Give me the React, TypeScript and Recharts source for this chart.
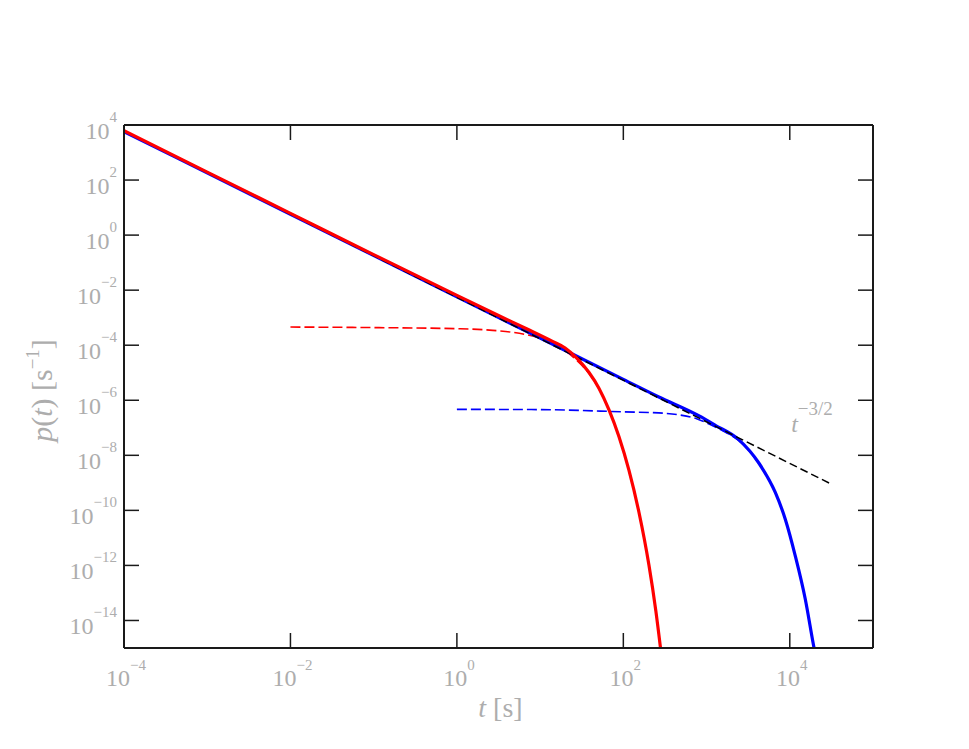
import React from 'react';
import { LineChart, Line, XAxis, YAxis, ReferenceDot, Label } from 'recharts';

// tick values and their exponent labels
const xTicks = [1e-4, 1e-2, 1, 1e2, 1e4];
const xTickExponents = ['\u22124', '\u22122', '0', '2', '4'];
const yTicks = [1e4, 1e2, 1, 1e-2, 1e-4, 1e-6, 1e-8, 1e-10, 1e-12, 1e-14];
const yTickExponents = ['4', '2', '0', '\u22122', '\u22124', '\u22126', '\u22128', '\u221210', '\u221212', '\u221214'];

// red solid curve p(t)
const redSolid = [
  { t: 1e-4, p: 6.2e3 },
  { t: 1e-3, p: 1.95e2 },
  { t: 1e-2, p: 6.17 },
  { t: 0.1, p: 0.195 },
  { t: 1, p: 6.46e-3 },
  { t: 3.16, p: 1.2e-3 },
  { t: 7.08, p: 3.8e-4 },
  { t: 14.1, p: 1.38e-4 },
  { t: 20, p: 7.94e-5 },
  { t: 27.2, p: 3.55e-5 },
  { t: 38.7, p: 1.02e-5 },
  { t: 50.9, p: 2.75e-6 },
  { t: 67.1, p: 4.57e-7 },
  { t: 88.5, p: 4.79e-8 },
  { t: 116.7, p: 2.88e-9 },
  { t: 153.8, p: 8.71e-11 },
  { t: 202.8, p: 1.05e-12 },
  { t: 246, p: 2.19e-14 },
  { t: 288, p: 4.79e-16 },
];

// red dashed curve
const redDashed = [
  { t: 1e-2, p: 4.57e-4 },
  { t: 0.1, p: 4.37e-4 },
  { t: 1, p: 3.98e-4 },
  { t: 2.69, p: 3.47e-4 },
  { t: 6.92, p: 2.4e-4 },
  { t: 10, p: 1.78e-4 },
  { t: 14.1, p: 1.12e-4 },
  { t: 20, p: 6.31e-5 },
  { t: 27.2, p: 2.95e-5 },
  { t: 38.7, p: 9.33e-6 },
  { t: 50.9, p: 2.63e-6 },
  { t: 67.1, p: 4.47e-7 },
  { t: 88.5, p: 4.68e-8 },
  { t: 116.7, p: 2.82e-9 },
  { t: 153.8, p: 8.51e-11 },
  { t: 202.8, p: 1.02e-12 },
  { t: 246, p: 2.14e-14 },
  { t: 288, p: 4.68e-16 },
];

// blue solid curve
const blueSolid = [
  { t: 1e-4, p: 5.75e3 },
  { t: 1e-2, p: 5.75 },
  { t: 1, p: 5.75e-3 },
  { t: 10, p: 1.82e-4 },
  { t: 100, p: 5.75e-6 },
  { t: 267, p: 1.32e-6 },
  { t: 805, p: 2.75e-7 },
  { t: 1259, p: 1.26e-7 },
  { t: 2432, p: 3.72e-8 },
  { t: 4227, p: 5.37e-9 },
  { t: 6699, p: 4.47e-10 },
  { t: 8831, p: 4.79e-11 },
  { t: 11641, p: 2.24e-12 },
  { t: 15346, p: 6.03e-14 },
  { t: 19320, p: 1.23e-15 },
  { t: 21380, p: 2.51e-16 },
];

// blue dashed curve
const blueDashed = [
  { t: 1, p: 4.68e-7 },
  { t: 10, p: 4.57e-7 },
  { t: 100, p: 3.8e-7 },
  { t: 267, p: 3.47e-7 },
  { t: 468, p: 2.95e-7 },
  { t: 759, p: 2.14e-7 },
  { t: 1000, p: 1.51e-7 },
  { t: 1585, p: 7.59e-8 },
  { t: 2432, p: 3.47e-8 },
  { t: 4227, p: 5.13e-9 },
  { t: 6699, p: 4.37e-10 },
  { t: 8831, p: 4.68e-11 },
  { t: 11641, p: 2.19e-12 },
  { t: 15346, p: 5.89e-14 },
  { t: 19320, p: 1.2e-15 },
  { t: 21380, p: 2.51e-16 },
];

// black dashed power law t^(-3/2)
const powerLaw = [
  { t: 1e-4, p: 6.0e3 },
  { t: 3.2e4, p: 8.8e-10 },
];

const annotation = { t: 1.04e4, p: 6.8e-8 };

const labelColor = '#adadad';
const fontFamily = '"Liberation Serif", "DejaVu Serif", serif';
const axisColor = '#1a1a1a';

const BottomTick = (props: any) => {
  const { x, y, payload } = props;
  const i = xTicks.indexOf(payload.value);
  return (
    <g>
      <line x1={x} y1={y} x2={x} y2={y - 15} stroke={axisColor} strokeWidth={1.5} />
      <text x={x + 2} y={y + 38} textAnchor="middle" fill={labelColor} fontFamily={fontFamily} fontSize={24}>
        <tspan>10</tspan>
        <tspan dy={-16} fontSize={15}>{xTickExponents[i]}</tspan>
      </text>
    </g>
  );
};

const TopTick = (props: any) => {
  const { x, y } = props;
  return <line x1={x} y1={y} x2={x} y2={y + 15} stroke={axisColor} strokeWidth={1.5} />;
};

const LeftTick = (props: any) => {
  const { x, y, payload } = props;
  const i = yTicks.indexOf(payload.value);
  return (
    <g>
      <line x1={x} y1={y} x2={x + 15} y2={y} stroke={axisColor} strokeWidth={1.5} />
      <text x={x - 7} y={y + 14} textAnchor="end" fill={labelColor} fontFamily={fontFamily} fontSize={24}>
        <tspan>10</tspan>
        <tspan dy={-17} fontSize={15}>{yTickExponents[i]}</tspan>
      </text>
    </g>
  );
};

const RightTick = (props: any) => {
  const { x, y } = props;
  return <line x1={x} y1={y} x2={x - 15} y2={y} stroke={axisColor} strokeWidth={1.5} />;
};

const XTitle = (props: any) => {
  const vb = props.viewBox;
  return (
    <text x={vb.x + vb.width / 2 + 2} y={vb.y + 69} textAnchor="middle" fill={labelColor} fontFamily={fontFamily} fontSize={28}>
      <tspan fontStyle="italic">t</tspan>
      <tspan> [s]</tspan>
    </text>
  );
};

const YTitle = (props: any) => {
  const vb = props.viewBox;
  const cx = vb.x - 12;
  const cy = vb.y + vb.height / 2 + 4;
  return (
    <text x={cx} y={cy} transform={`rotate(-90, ${cx}, ${cy})`} textAnchor="middle" fill={labelColor} fontFamily={fontFamily} fontSize={30}>
      <tspan fontStyle="italic">p</tspan>
      <tspan>(</tspan>
      <tspan fontStyle="italic">t</tspan>
      <tspan>) [s</tspan>
      <tspan dy={-13} fontSize={19}>{'\u22121'}</tspan>
      <tspan dy={13}>]</tspan>
    </text>
  );
};

const AnnotationLabel = (props: any) => {
  const vb = props.viewBox;
  const x = vb.x + (vb.width || 0) / 2;
  const y = vb.y + (vb.height || 0) / 2;
  return (
    <text x={x} y={y} fill={labelColor} fontFamily={fontFamily} fontSize={24}>
      <tspan fontStyle="italic">t</tspan>
      <tspan dy={-17} fontSize={19}>{'\u22123/2'}</tspan>
    </text>
  );
};

export default function App() {
  return (
    <LineChart width={953} height={733} margin={{ top: 97, right: 68, bottom: 33, left: 56 }}>
      <XAxis
        xAxisId={0}
        dataKey="t"
        type="number"
        scale="log"
        domain={[1e-4, 1e5]}
        allowDataOverflow
        ticks={xTicks}
        interval={0}
        height={60}
        tickSize={0}
        tickMargin={0}
        tickLine={false}
        axisLine={{ stroke: axisColor, strokeWidth: 2 }}
        tick={<BottomTick />}
      >
        <Label content={<XTitle />} />
      </XAxis>
      <XAxis
        xAxisId="top"
        orientation="top"
        dataKey="t"
        type="number"
        scale="log"
        domain={[1e-4, 1e5]}
        allowDataOverflow
        ticks={xTicks}
        interval={0}
        height={20}
        tickSize={0}
        tickMargin={0}
        tickLine={false}
        axisLine={{ stroke: axisColor, strokeWidth: 2 }}
        tick={<TopTick />}
      />
      <YAxis
        yAxisId={0}
        dataKey="p"
        type="number"
        scale="log"
        domain={[1e-15, 1e4]}
        allowDataOverflow
        ticks={yTicks}
        interval={0}
        width={60}
        tickSize={0}
        tickMargin={0}
        tickLine={false}
        axisLine={{ stroke: axisColor, strokeWidth: 2 }}
        tick={<LeftTick />}
      >
        <Label content={<YTitle />} />
      </YAxis>
      <YAxis
        yAxisId="right"
        orientation="right"
        dataKey="p"
        type="number"
        scale="log"
        domain={[1e-15, 1e4]}
        allowDataOverflow
        ticks={yTicks}
        interval={0}
        width={20}
        tickSize={0}
        tickMargin={0}
        tickLine={false}
        axisLine={{ stroke: axisColor, strokeWidth: 2 }}
        tick={<RightTick />}
      />
      <Line
        xAxisId="top"
        yAxisId="right"
        data={powerLaw}
        dataKey="p"
        stroke="none"
        dot={false}
        activeDot={false}
        isAnimationActive={false}
      />
      <Line data={blueDashed} dataKey="p" type="monotone" stroke="#0000ff" strokeWidth={1.6} strokeDasharray="10 4" dot={false} isAnimationActive={false} />
      <Line data={redDashed} dataKey="p" type="monotone" stroke="#ff0000" strokeWidth={1.6} strokeDasharray="10 4" dot={false} isAnimationActive={false} />
      <Line data={blueSolid} dataKey="p" type="monotone" stroke="#0000ff" strokeWidth={3.2} dot={false} isAnimationActive={false} />
      <Line data={powerLaw} dataKey="p" type="linear" stroke="#000000" strokeWidth={1.5} strokeDasharray="8 4" dot={false} isAnimationActive={false} />
      <Line data={redSolid} dataKey="p" type="monotone" stroke="#ff0000" strokeWidth={3.2} dot={false} isAnimationActive={false} />
      <ReferenceDot x={annotation.t} y={annotation.p} r={1} fill="none" stroke="none" label={<AnnotationLabel />} />
    </LineChart>
  );
}
